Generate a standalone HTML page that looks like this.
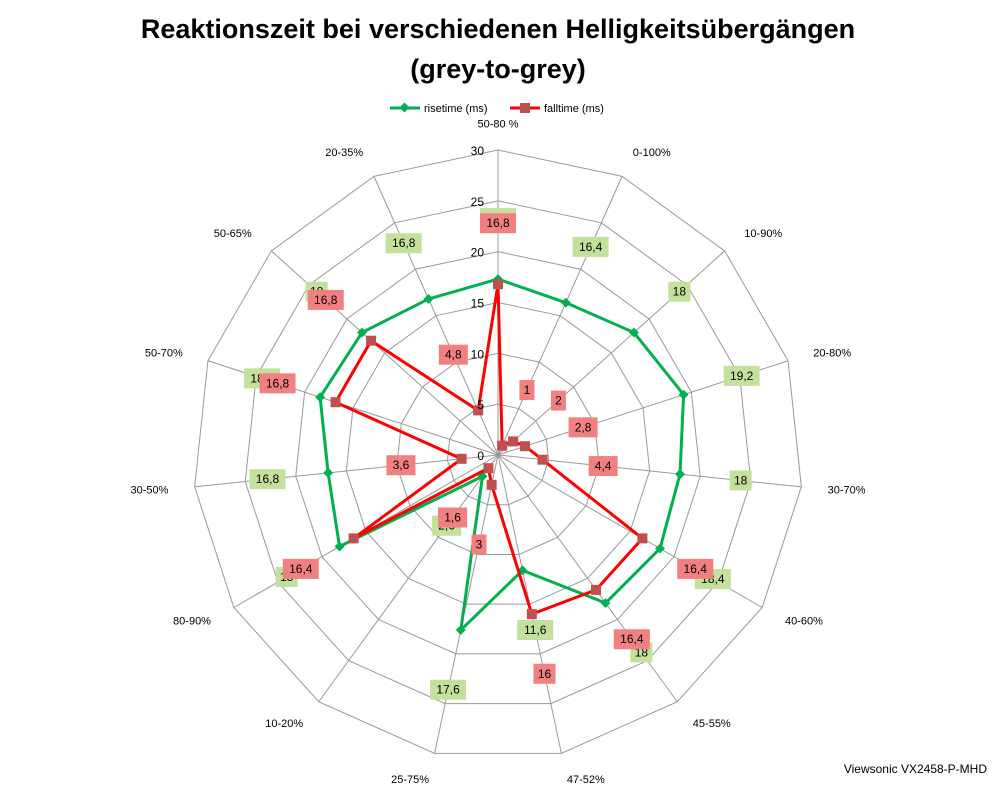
<!DOCTYPE html>
<html><head><meta charset="utf-8"><style>
body{margin:0;background:#fff;font-family:"Liberation Sans",sans-serif;}
</style></head><body>
<svg width="998" height="786" xmlns="http://www.w3.org/2000/svg" font-family="Liberation Sans, sans-serif">
<rect width="998" height="786" fill="#fff"/>
<text x="498" y="38" text-anchor="middle" font-size="27" font-weight="bold">Reaktionszeit bei verschiedenen Helligkeitsübergängen</text>
<text x="498" y="78" text-anchor="middle" font-size="27" font-weight="bold">(grey-to-grey)</text>
<g font-size="11">
<g><line x1="390" y1="108" x2="420" y2="108" stroke="#00b050" stroke-width="3"/><rect x="401" y="104" width="7" height="7" fill="#00b050" transform="rotate(45 404.5 107.5)"/><text x="424" y="112">risetime (ms)</text></g>
<g><line x1="510" y1="108" x2="540" y2="108" stroke="#ff0000" stroke-width="3"/><rect x="520" y="103" width="10" height="10" fill="#c0504d"/><text x="544" y="112">falltime (ms)</text></g>
</g>
<g id="grid"></g><g id="series"></g><g id="labels"></g>
<text x="987" y="773" text-anchor="end" font-size="12">Viewsonic VX2458-P-MHD</text>
<script>
const categories=["50-80 %","0-100%","10-90%","20-80%","30-70%","40-60%","45-55%","47-52%","25-75%","10-20%","80-90%","30-50%","50-70%","50-65%","20-35%"];
const riseValues=[17.3,16.4,18,19.2,18,18.4,18,11.6,17.6,2.6,18,16.8,18.4,18,16.8];
const riseLabels=["17,3","16,4","18","19,2","18","18,4","18","11,6","17,6","2,6","18","16,8","18,4","18","16,8"];
const fallValues=[16.8,1,2,2.8,4.4,16.4,16.4,16,3,1.6,16.4,3.6,16.8,16.8,4.8];
const fallLabels=["16,8","1","2","2,8","4,4","16,4","16,4","16","3","1,6","16,4","3,6","16,8","16,8","4,8"];
const ticks=[0,5,10,15,20,25,30];
const NS="http://www.w3.org/2000/svg";
const cx=498,cy=455,R=305,MAX=30;
function pt(i,v){const a=i*2*Math.PI/categories.length;const r=v/MAX*R;return [cx+r*Math.sin(a),cy-r*Math.cos(a)];}
function mk(t,a,p){const e=document.createElementNS(NS,t);for(const k in a)e.setAttribute(k,a[k]);p.appendChild(e);return e;}
const grid=document.getElementById('grid'),ser=document.getElementById('series'),lab=document.getElementById('labels');
ticks.slice(1).forEach(t=>{const g=mk('polygon',{points:categories.map((c,i)=>pt(i,t).join(',')).join(' '),fill:'none',stroke:'#999','stroke-width':1},grid);

});
categories.forEach((c,i)=>{const p=pt(i,MAX);const l=mk('line',{x1:cx,y1:cy,x2:p[0],y2:p[1],stroke:'#999','stroke-width':1},grid);


const q=pt(i,MAX+2.6);const a=i*2*Math.PI/categories.length;const s=Math.sin(a);
const tx=mk('text',{x:q[0],y:q[1]+4,'font-size':11,'text-anchor':Math.abs(s)<0.2?'middle':(s>0?'start':'end')},lab);tx.textContent=c;

});
ticks.forEach(t=>{const p=pt(0,t);const tx=mk('text',{x:p[0]-14,y:p[1]+5,'font-size':12,'text-anchor':'end'},lab);tx.textContent=t;

});
function series(vals,lbls,color,mcol,bg,name,diamond){
const pts=vals.map((v,i)=>pt(i,v));
const pl=mk('polygon',{points:pts.map(p=>p.join(',')).join(' '),fill:'none',stroke:color,'stroke-width':3},ser);


pts.forEach((p,i)=>{let m;
if(diamond){m=mk('rect',{x:p[0]-3.5,y:p[1]-3.5,width:7,height:7,fill:mcol,transform:`rotate(45 ${p[0]} ${p[1]})`},ser);}
else{m=mk('rect',{x:p[0]-5,y:p[1]-5,width:10,height:10,fill:mcol},ser);}


const q=pt(i,vals[i]+6);const w=lbls[i].length*7+8;
const r=mk('rect',{x:q[0]-w/2,y:q[1]-10,width:w,height:20,fill:bg},lab);


const tx=mk('text',{x:q[0],y:q[1]+4,'font-size':12,'text-anchor':'middle'},lab);tx.textContent=lbls[i];

});}
series(riseValues,riseLabels,'#00b050','#00b050','#c3e09c','rise',true);
series(fallValues,fallLabels,'#ff0000','#c0504d','#f28080','fall',false);
</script>
</svg>
</body></html>
